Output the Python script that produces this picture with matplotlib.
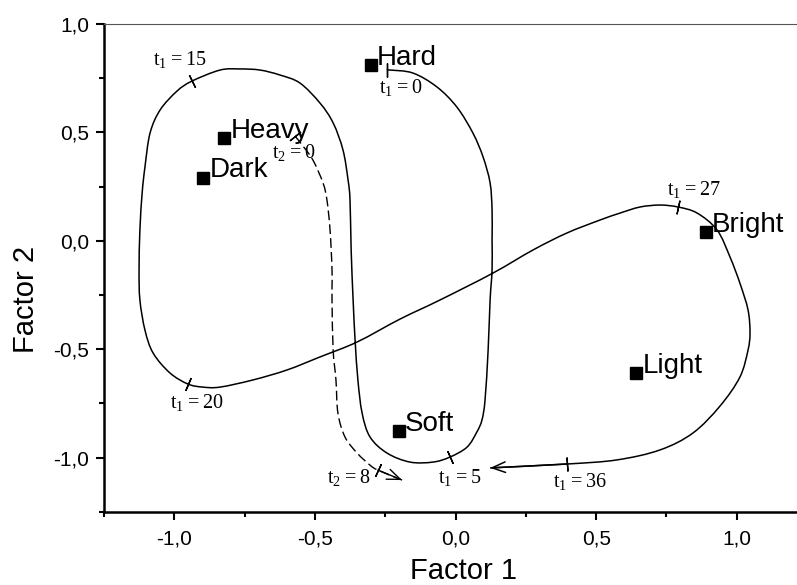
import numpy as np
import matplotlib
matplotlib.use("Agg")
import matplotlib.pyplot as plt
from matplotlib.ticker import MultipleLocator, FuncFormatter
from matplotlib.path import Path
from matplotlib.patches import PathPatch

# ---- data ----
names = ["Hard", "Heavy", "Dark", "Bright", "Light", "Soft"]
name_x = [-0.301, -0.823, -0.897, 0.889, 0.643, -0.202]
name_y = [0.811, 0.473, 0.292, 0.039, -0.612, -0.878]

# trajectory t1 (solid)
t1_x = [-0.244, -0.233, -0.151, -0.066, 0.005, 0.062, 0.098, 0.123, 0.130, 0.130,
        0.130, 0.123, 0.116, 0.105, 0.094, 0.076, 0.041, -0.020, -0.080, -0.162,
        -0.244, -0.304, -0.332, -0.347, -0.357, -0.364, -0.371, -0.375, -0.382, -0.400,
        -0.435, -0.482, -0.553, -0.624, -0.695, -0.766, -0.837, -0.937, -0.990, -1.050,
        -1.086, -1.104, -1.114, -1.122, -1.125, -1.122, -1.104, -1.075, -1.015, -0.951,
        -0.898, -0.837, -0.720, -0.599, -0.482, -0.350, -0.197, -0.055, 0.133, 0.276,
        0.396, 0.514, 0.585, 0.656, 0.727, 0.791, 0.859, 0.930, 0.976, 1.011,
        1.040, 1.047, 1.040, 1.011, 0.940, 0.844, 0.727, 0.574, 0.396, 0.123]
t1_y = [0.788, 0.788, 0.774, 0.710, 0.617, 0.497, 0.387, 0.267, 0.142, 0.004,
        -0.135, -0.273, -0.504, -0.735, -0.827, -0.882, -0.952, -0.998, -1.021, -1.021,
        -0.979, -0.905, -0.795, -0.642, -0.458, -0.273, -0.042, 0.188, 0.281, 0.419,
        0.544, 0.636, 0.728, 0.765, 0.788, 0.793, 0.788, 0.737, 0.691, 0.604,
        0.497, 0.341, 0.221, 0.050, -0.135, -0.273, -0.412, -0.518, -0.610, -0.661,
        -0.675, -0.675, -0.642, -0.596, -0.536, -0.467, -0.361, -0.273, -0.149, -0.042,
        0.036, 0.096, 0.128, 0.156, 0.165, 0.156, 0.128, 0.050, -0.075, -0.195,
        -0.319, -0.425, -0.504, -0.629, -0.763, -0.887, -0.965, -1.011, -1.030, -1.048]

# trajectory t2 (dashed)
t2_x = [-0.571, -0.542, -0.507, -0.471, -0.457, -0.446, -0.439, -0.439, -0.435, -0.425,
        -0.418, -0.393, -0.350, -0.304, -0.276, -0.190]
t2_y = [0.484, 0.437, 0.373, 0.267, 0.188, 0.050, -0.135, -0.273, -0.504, -0.642,
        -0.795, -0.905, -0.979, -1.035, -1.058, -1.104]

# time marks: (label, index on path, label x, label baseline y)
t1_marks = ["0", "5", "15", "20", "27", "36"]
t1_mark_idx = [0, 17, 37, 49, 65, 78]
t1_lab_x = [-0.272, -0.062, -1.075, -1.015, 0.752, 0.347]
t1_lab_y = [0.682, -1.118, 0.811, -0.772, 0.211, -1.136]

t2_marks = ["0", "8"]
t2_mark_idx = [0, 14]
t2_lab_x = [-0.652, -0.457]
t2_lab_y = [0.382, -1.118]

# ---- figure ----
W, H = 797, 585
fig = plt.figure(figsize=(W / 100, H / 100), dpi=100)
ax = fig.add_axes([103.9 / W, (H - 511.7) / H, 703.2 / W, 487.6 / H])
ax.set_xlim(-1.25, 1.25)
ax.set_ylim(-1.25, 1.0)

sans = "Liberation Sans"
serif = "Liberation Serif"

ax.spines["right"].set_visible(False)
ax.spines["top"].set_color("#555555")
ax.spines["top"].set_linewidth(0.8)
for s in ("left", "bottom"):
    ax.spines[s].set_linewidth(1.8)
    ax.spines[s].set_color("black")

ax.xaxis.set_major_locator(MultipleLocator(0.5))
ax.xaxis.set_minor_locator(MultipleLocator(0.25))
ax.yaxis.set_major_locator(MultipleLocator(0.5))
ax.yaxis.set_minor_locator(MultipleLocator(0.25))
fmt = FuncFormatter(lambda v, p: ("%.1f" % v).replace(".", ",").replace("\u2212", "-"))
ax.xaxis.set_major_formatter(fmt)
ax.yaxis.set_major_formatter(fmt)
ax.tick_params(axis="both", which="major", direction="out", length=5.5, width=1.5,
               labelsize=15, pad=5)
ax.tick_params(axis="both", which="minor", direction="out", length=3.5, width=1.5)
ax.tick_params(axis="x", which="major", pad=7)
for lab in ax.get_xticklabels() + ax.get_yticklabels():
    lab.set_fontfamily(sans)


def smooth_path(xs, ys):
    """Cubic Bezier path through the read points (Catmull-Rom control points)."""
    p = np.column_stack([xs, ys])
    n = len(p)
    verts = [p[0]]
    codes = [Path.MOVETO]
    for i in range(n - 1):
        p0 = p[max(i - 1, 0)]
        p1 = p[i]
        p2 = p[i + 1]
        p3 = p[min(i + 2, n - 1)]
        c1 = p1 + (p2 - p0) / 6.0
        c2 = p2 - (p3 - p1) / 6.0
        verts += [c1, c2, p2]
        codes += [Path.CURVE4] * 3
    return Path(verts, codes)


ax.add_patch(PathPatch(smooth_path(t1_x, t1_y), fill=False, edgecolor="black",
                       lw=1.1, capstyle="butt"))
ax.add_patch(PathPatch(smooth_path(t2_x, t2_y), fill=False, edgecolor="black",
                       lw=1.0, linestyle=(0, (7, 3))))

# arrow heads
for xs, ys, lw in ((t1_x, t1_y, 1.1), (t2_x, t2_y, 1.0)):
    ax.annotate("", xy=(xs[-1], ys[-1]), xytext=(xs[-2], ys[-2]),
                arrowprops=dict(arrowstyle="->,head_length=0.95,head_width=0.38",
                                color="black", lw=lw, mutation_scale=10,
                                shrinkA=0, shrinkB=0, linestyle="-"))


def tick_marks(xs, ys, idxs):
    pts = ax.transData.transform(np.column_stack([xs, ys]))
    for i in idxs:
        a = pts[max(i - 1, 0)]
        b = pts[min(i + 1, len(pts) - 1)]
        ang = np.degrees(np.arctan2(b[1] - a[1], b[0] - a[0]))
        ax.plot([xs[i]], [ys[i]], linestyle="none", marker=(2, 2, ang),
                markersize=10, markeredgewidth=1.0, color="black")


tick_marks(t1_x, t1_y, t1_mark_idx)
tick_marks(t2_x, t2_y, t2_mark_idx)

for lab, lx, ly in zip(t1_marks, t1_lab_x, t1_lab_y):
    ax.text(lx, ly, r"$\mathregular{t_1 = %s}$" % lab, fontfamily=serif,
            fontsize=14.5, ha="left", va="baseline")
for lab, lx, ly in zip(t2_marks, t2_lab_x, t2_lab_y):
    ax.text(lx, ly, r"$\mathregular{t_2 = %s}$" % lab, fontfamily=serif,
            fontsize=14.5, ha="left", va="baseline")

# attribute points
ax.plot(name_x, name_y, linestyle="none", marker="s", markersize=8,
        color="black")
for n, x, y in zip(names, name_x, name_y):
    ax.annotate(n, (x, y), xytext=(4.5, 0.3), textcoords="offset points",
                fontfamily=sans, fontsize=20, ha="left", va="baseline")

# axis titles
fig.text(464 / W, 1 - 571 / H, "Factor 1", fontfamily=sans, fontsize=21,
         ha="center", va="center")
fig.text(26 / W, 1 - 299 / H, "Factor 2", fontfamily=sans, fontsize=21,
         ha="center", va="center", rotation=90)

fig.savefig("out.png", dpi=100)
